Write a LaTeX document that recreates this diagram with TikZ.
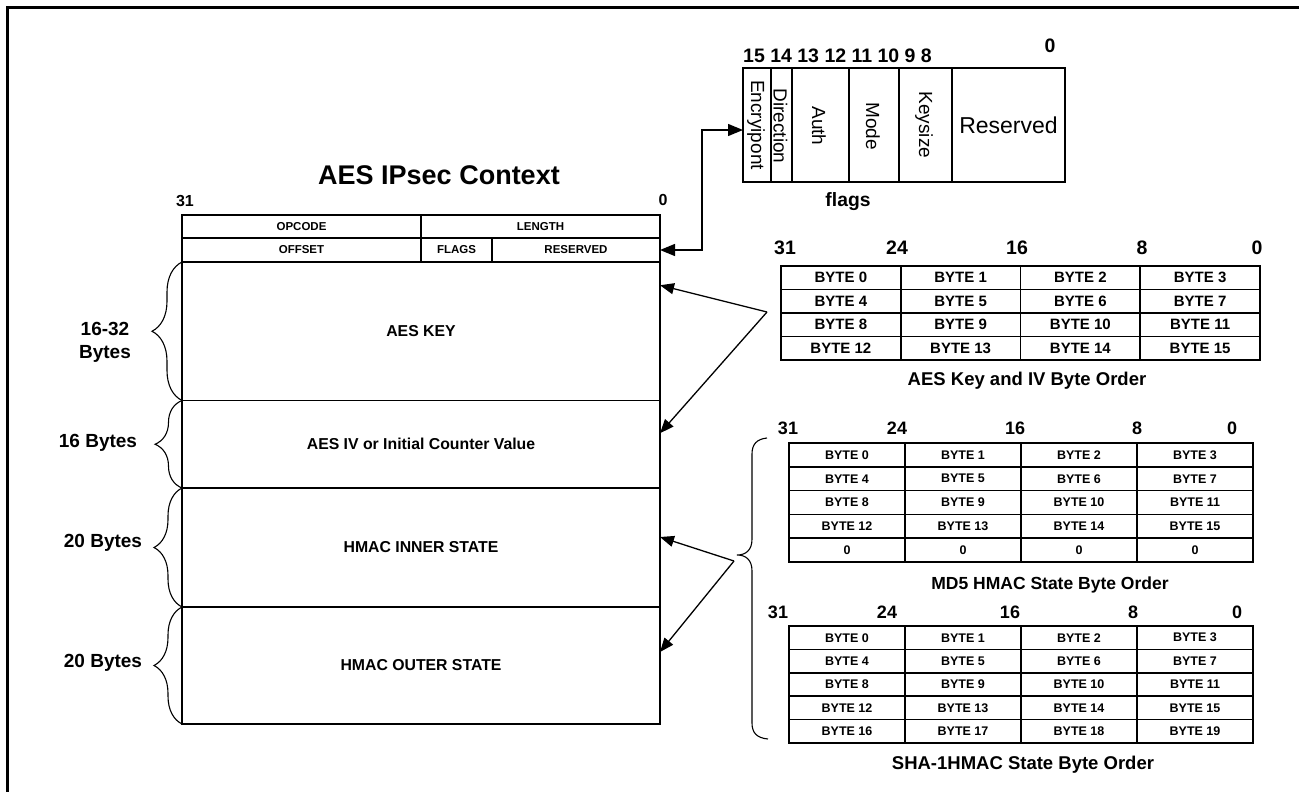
\documentclass[tikz,border=0pt]{standalone}
\usepackage{fontspec}
\setmainfont{Liberation Sans}
\usetikzlibrary{arrows.meta,decorations.pathreplacing,calc}
\newcommand\fsz[1]{\fontsize{#1pt}{#1pt}\selectfont}
\begin{document}
\begin{tikzpicture}[x=1pt,y=-1pt,
  cell/.style={draw,line width=1.7pt,inner sep=0pt,outer sep=0pt,font=\bfseries\fsz{11.5}},
  body/.style={cell,font=\bfseries\fsz{15.8}},
  lbl/.style={inner sep=0pt,font=\bfseries\fsz{18}},
  capt/.style={inner sep=0pt,font=\bfseries\fsz{18.5}},
  vtxt/.style={inner sep=0pt,rotate=-90,font=\fsz{19}},
  arr/.style={line width=1.3pt,-{Triangle[length=14pt,width=11pt]}},
  brc/.style={line width=1.1pt,decorate,decoration={brace,amplitude=#1}},
]
\useasboundingbox (0,0) rectangle (1299,792);
% frame
\draw[line width=2.5pt] (7.3,792) -- (7.3,7.3) -- (1299,7.3);

% ---------- AES IPsec context table ----------
\node[inner sep=0pt,font=\bfseries\fsz{27}] (title) at (439,175) {AES IPsec Context};
\node[lbl,font=\bfseries\fsz{16}] (h31) at (185,201) {31};
\node[lbl,font=\bfseries\fsz{16}] (h0) at (663,200) {0};

\node[cell,minimum width=239pt,minimum height=23pt] (opcode) at (301.5,226.5) {OPCODE};
\node[cell,minimum width=239pt,minimum height=23pt] (length) at (540.5,226.5) {LENGTH};
\node[cell,minimum width=239pt,minimum height=24pt] (offset) at (301.5,250) {OFFSET};
\node[cell,minimum width=71pt,minimum height=24pt] (flagsc) at (456.5,250) {FLAGS};
\node[cell,minimum width=168pt,minimum height=24pt] (resv) at (576,250) {RESERVED};
\node[body,minimum width=478pt,minimum height=138.5pt] (aeskey) at (421,331.25) {AES KEY};
\node[body,minimum width=478pt,minimum height=87.5pt] (aesiv) at (421,444.25) {AES IV or Initial Counter Value};
\node[body,minimum width=478pt,minimum height=119pt] (hinner) at (421,547.5) {HMAC INNER STATE};
\node[body,minimum width=478pt,minimum height=117pt] (houter) at (421,665.5) {HMAC OUTER STATE};

% braces on the left
\draw[brc=30pt] (aeskey.south west) -- (aeskey.north west);
\draw[brc=27pt] (aesiv.south west) -- (aesiv.north west);
\draw[brc=28pt] (hinner.south west) -- (hinner.north west);
\draw[brc=28pt] (houter.south west) -- (houter.north west);
\node[inner sep=0pt,align=center,font=\bfseries\fontsize{19pt}{23pt}\selectfont] (b1) at (105,342.5) {16-32\\Bytes};
\node[inner sep=0pt,font=\bfseries\fsz{19}] (b2) at (98,443) {16 Bytes};
\node[inner sep=0pt,font=\bfseries\fsz{19}] (b3) at (103,543) {20 Bytes};
\node[inner sep=0pt,font=\bfseries\fsz{19}] (b4) at (103,663) {20 Bytes};

% ---------- flags ----------
\tikzset{fcell/.style={draw,line width=1.7pt,inner sep=0pt,outer sep=0pt,minimum height=114pt}}
\node[fcell,minimum width=28pt] (enc) at (757,125) {};
\node[fcell,minimum width=21pt] (dir) at (781.5,125) {};
\node[fcell,minimum width=57pt] (auth) at (820.5,125) {};
\node[fcell,minimum width=50pt] (mode) at (874,125) {};
\node[fcell,minimum width=53pt] (ksz) at (925.5,125) {};
\node[fcell,minimum width=113pt,font=\fsz{23}] (fres) at (1008.5,125) {Reserved};
\node[vtxt] (tenc) at (756,125) {Encryipont};
\node[vtxt] (tdir) at (780.5,126) {Direction};
\node[vtxt] (tauth) at (819,126) {Auth};
\node[vtxt] (tmode) at (873,126) {Mode};
\node[vtxt] (tksz) at (924,125) {Keysize};
\node[inner sep=0pt,anchor=west,font=\bfseries\fsz{19.5}] (bits) at (743,56) {15 14 13 12 11 10 9 8};
\node[inner sep=0pt,font=\bfseries\fsz{19.5}] (bit0) at (1050,46) {0};
\node[inner sep=0pt,font=\bfseries\fsz{19.3}] (flagsl) at (848,202) {flags};

\draw[line width=1.3pt,{Triangle[length=15pt,width=12pt]}-{Triangle[length=15pt,width=12pt]}]
  ([yshift=-5pt]enc.west) -- ++(-41,0) |- (resv.east);

% ---------- AES key byte order ----------
\foreach \r in {0,...,3}
  \foreach \c in {0,...,3} {
    \pgfmathtruncatemacro\n{4*\r+\c}
    \node[cell,font=\bfseries\fsz{15},minimum width=119.75pt,minimum height=23.5pt]
      (k-\r-\c) at ({781+119.75*(\c+0.5)},{266+23.5*(\r+0.5)}) {BYTE \n};
  }
\node[lbl,font=\bfseries\fsz{19.5}] (ka) at (785,248) {31};
\node[lbl,font=\bfseries\fsz{19.5}] (kb) at (897,248) {24};
\node[lbl,font=\bfseries\fsz{19.5}] (kc) at (1017,248) {16};
\node[lbl,font=\bfseries\fsz{19.5}] (kd) at (1142,248) {8};
\node[lbl,font=\bfseries\fsz{19.5}] (ke) at (1257,248) {0};
\node[capt] (kcap) at (1027,381) {AES Key and IV Byte Order};

% ---------- MD5 byte order ----------
\foreach \r in {0,...,4}
  \foreach \c in {0,...,3} {
    \pgfmathtruncatemacro\n{4*\r+\c}
    \node[cell,font=\bfseries\fsz{12.5},minimum width=116pt,minimum height=23.8pt]
      (m-\r-\c) at ({789+116*(\c+0.5)},{443+23.8*(\r+0.5)}) {\ifnum\r<4 BYTE \n\else 0\fi};
  }
\node[lbl] (ma) at (788,428) {31};
\node[lbl] (mb) at (897,428) {24};
\node[lbl] (mc) at (1015,428) {16};
\node[lbl] (md) at (1137,428) {8};
\node[lbl] (me) at (1232,428) {0};
\node[capt,font=\bfseries\fsz{17.5}] (mcap) at (1050,585) {MD5 HMAC State Byte Order};

% ---------- SHA-1 byte order ----------
\foreach \r in {0,...,4}
  \foreach \c in {0,...,3} {
    \pgfmathtruncatemacro\n{4*\r+\c}
    \node[cell,font=\bfseries\fsz{12.5},minimum width=116pt,minimum height=23.4pt]
      (s-\r-\c) at ({789+116*(\c+0.5)},{626+23.4*(\r+0.5)}) {BYTE \n};
  }
\node[lbl] (sa) at (778,612) {31};
\node[lbl] (sb) at (887,612) {24};
\node[lbl] (sc) at (1010,612) {16};
\node[lbl] (sd) at (1133,612) {8};
\node[lbl] (se) at (1237,612) {0};
\node[capt] (scap) at (1023,765) {SHA-1HMAC State Byte Order};

% ---------- right brace ----------
\coordinate (bt) at (737,555);
\draw[line width=1.1pt] (767,438) .. controls (757,439) and (752,444) .. (752,454)
  -- (752,539) .. controls (752,550) and (746,555) .. (bt)
  .. controls (746,555) and (752,560) .. (752,571)
  -- (752,723) .. controls (752,733) and (757,738) .. (768,739);

% ---------- arrows ----------
\coordinate (p1) at (767,312);
\coordinate (p2) at (734,561);
\draw[arr] (p1) -- ([yshift=46pt]aeskey.east);
\draw[arr] (p1) -- ([yshift=11pt]aesiv.east);
\draw[arr] (p2) -- ([yshift=10.5pt]hinner.east);
\draw[arr] (p2) -- ([yshift=13.5pt]houter.east);
\end{tikzpicture}
\end{document}
